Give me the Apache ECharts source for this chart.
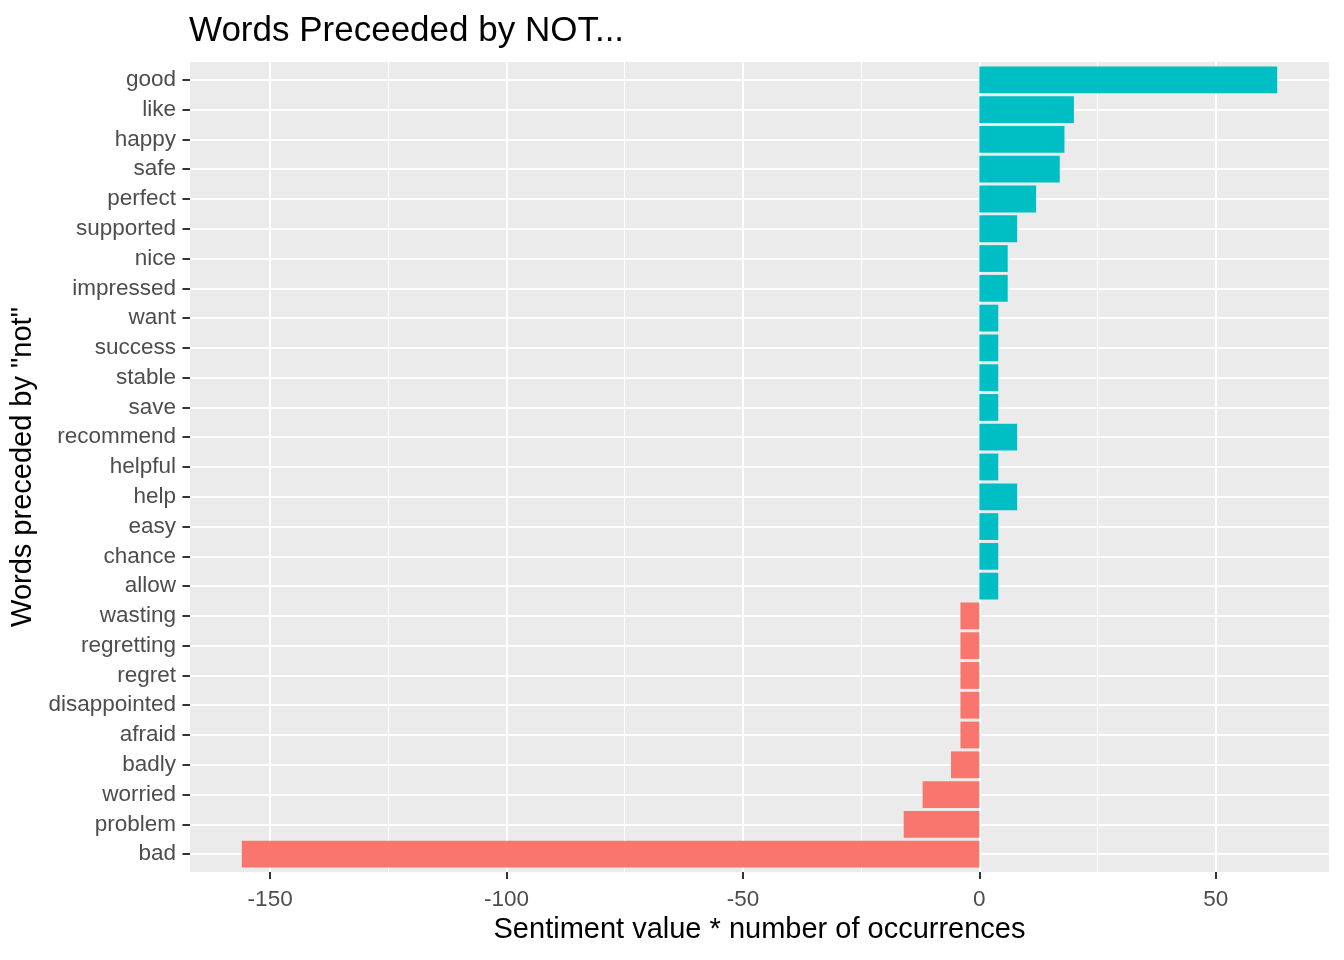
<!DOCTYPE html>
<html>
<head>
<meta charset="utf-8">
<title>Words Preceeded by NOT...</title>
<script src="https://cdn.jsdelivr.net/npm/echarts@6/dist/echarts.min.js"></script>
<style>
  html, body { margin: 0; padding: 0; background: #fff; }
  #chart { width: 1344px; height: 960px; }
</style>
</head>
<body>
<div id="chart"></div>
<script>
// words, top to bottom as in the plot
var words = ["good", "like", "happy", "safe", "perfect", "supported", "nice",
  "impressed", "want", "success", "stable", "save", "recommend", "helpful",
  "help", "easy", "chance", "allow", "wasting", "regretting", "regret",
  "disappointed", "afraid", "badly", "worried", "problem", "bad"];
// sentiment value * number of occurrences
var contribution = [63, 20, 18, 17, 12, 8, 6, 6, 4, 4, 4, 4, 8, 4, 8, 4, 4, 4,
  -4, -4, -4, -4, -4, -6, -12, -16, -156];
var majorTicks = [-150, -100, -50, 0, 50];
var minorTicks = [-125, -75, -25, 25];

var posColor = "#00BFC4";
var negColor = "#F8766D";
var font = "Liberation Sans, Arial, sans-serif";

// ggplot adds 5% on each side of the data range
var lo = Math.min.apply(null, contribution.concat(0));
var hi = Math.max.apply(null, contribution.concat(0));
var pad = (hi - lo) * 0.05;
var xMin = lo - pad, xMax = hi + pad;

// panel box, and the discrete axis expanded by 0.6 of a step on each side
var panel = { left: 190, top: 62, width: 1139, height: 810 };
var step = panel.height / (words.length - 1 + 1.2);
var inset = 0.6 * step;

var chartDom = document.getElementById("chart");
var myChart = echarts.init(chartDom, null, { renderer: "canvas" });

var option = {
  animation: false,
  backgroundColor: "#fff",
  textStyle: { fontFamily: font },
  title: {
    text: "Words Preceeded by NOT...",
    left: 189,
    top: 14,
    padding: 0,
    textStyle: { fontFamily: font, fontSize: 35, fontWeight: "normal", color: "#000" }
  },
  grid: [
    { left: panel.left, top: panel.top, width: panel.width, height: panel.height,
      show: true, backgroundColor: "#EBEBEB", borderWidth: 0 },
    { left: panel.left, top: panel.top + inset, width: panel.width,
      height: panel.height - 2 * inset }
  ],
  xAxis: [
    {
      type: "value", gridIndex: 0, min: xMin, max: xMax,
      axisLine: { show: false },
      axisTick: { show: true, length: 7, customValues: majorTicks,
        lineStyle: { color: "#333333", width: 2 } },
      axisLabel: { customValues: majorTicks, color: "#4D4D4D", fontSize: 22.5,
        margin: 16, fontFamily: font },
      splitLine: { show: true, lineStyle: { color: "#fff", width: 2 } },
      name: "Sentiment value * number of occurrences",
      nameLocation: "middle",
      nameGap: 43,
      nameTextStyle: { color: "#000", fontSize: 29, fontFamily: font }
    },
    {
      type: "value", gridIndex: 0, min: xMin, max: xMax,
      axisLine: { show: false },
      axisTick: { show: false, customValues: minorTicks },
      axisLabel: { show: false, customValues: minorTicks },
      splitLine: { show: true, lineStyle: { color: "#fff", width: 1 } }
    },
    {
      type: "value", gridIndex: 1, min: xMin, max: xMax, show: false
    }
  ],
  yAxis: [
    { type: "value", gridIndex: 0, min: 0, max: 1, show: false },
    {
      type: "category", gridIndex: 1, data: words, inverse: true,
      boundaryGap: false,
      axisLine: { show: false, onZero: false },
      axisTick: { show: true, length: 7.5, interval: 0,
        lineStyle: { color: "#333333", width: 2 } },
      axisLabel: { color: "#4D4D4D", fontSize: 22.5, margin: 14, interval: 0,
        padding: [7, 0, 0, 0], fontFamily: font },
      splitLine: { show: true, interval: 0, lineStyle: { color: "#fff", width: 2 } },
      name: 'Words preceded by "not"',
      nameLocation: "middle",
      nameGap: 145,
      nameRotate: 90,
      nameTextStyle: { color: "#000", fontSize: 29, fontFamily: font }
    }
  ],
  series: [
    {
      type: "bar",
      xAxisIndex: 2,
      yAxisIndex: 1,
      data: contribution,
      barWidth: "90%",
      itemStyle: {
        color: function (p) { return p.value > 0 ? posColor : negColor; }
      },
      z: 3
    }
  ]
};

option && myChart.setOption(option);
</script>
</body>
</html>
